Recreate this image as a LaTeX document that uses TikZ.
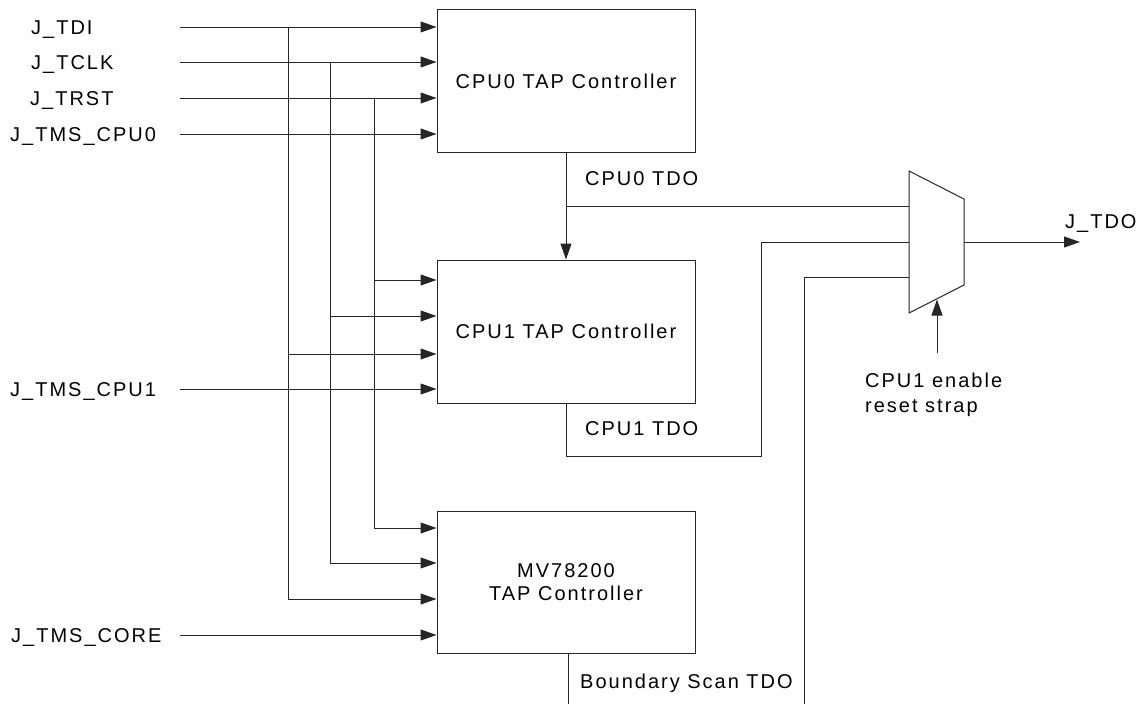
\documentclass[tikz,border=0pt]{standalone}
\usepackage{fontspec}
\setmainfont{Liberation Sans}[LetterSpace=10]
\usetikzlibrary{arrows.meta}
\begin{document}
\begin{tikzpicture}[x=1pt,y=-1pt,
  wire/.style={line width=1pt, draw=black!85},
  sig/.style={wire,-{Triangle[length=16pt,width=11pt]}},
  tapbox/.style={draw=black!85,line width=1pt,minimum width=258pt,minimum height=143pt,inner sep=0pt,align=center,font=\fontsize{20}{23}\selectfont},
  lbl/.style={font=\fontsize{20}{23}\selectfont,inner sep=0pt,anchor=west,text height=14.3pt,text depth=0pt},
]
\useasboundingbox (0,0) rectangle (1140,704);

% boxes
\node[tapbox] (cpu0) at (566,81) {CPU0 TAP Controller};
\node[tapbox] (cpu1) at (566,331.5) {CPU1 TAP Controller};
\node[tapbox,minimum height=142pt] (mv) at (566,582) {MV78200\\TAP Controller};

% input labels
\node[lbl] (l-tdi) at (31,27) {J\_TDI};
\node[lbl] (l-tclk) at (31,62) {J\_TCLK};
\node[lbl] (l-trst) at (30,98) {J\_TRST};
\node[lbl] (l-tms0) at (10,134) {J\_TMS\_CPU0};
\node[lbl] (l-tms1) at (10,389) {J\_TMS\_CPU1};
\node[lbl] (l-tmsc) at (11,635) {J\_TMS\_CORE};

% wire start points
\coordinate (s-tdi) at (180,27);
\coordinate (s-tclk) at (180,62);
\coordinate (s-trst) at (180,98);
\coordinate (s-tms0) at (180,134);
\coordinate (s-tms1) at (180,389);
\coordinate (s-tmsc) at (180,635);

% bus points
\coordinate (b1top) at (288,27);
\coordinate (b1c1) at (288,354);
\coordinate (b1mv) at (288,599);
\coordinate (b2top) at (330,62);
\coordinate (b2c1) at (330,316);
\coordinate (b2mv) at (330,563);
\coordinate (b3top) at (374,98);
\coordinate (b3c1) at (374,280);
\coordinate (b3mv) at (374,528);

% CPU0 inputs
\draw[sig] (s-tdi) -- (s-tdi -| cpu0.west);
\draw[sig] (s-tclk) -- (s-tclk -| cpu0.west);
\draw[sig] (s-trst) -- (s-trst -| cpu0.west);
\draw[sig] (s-tms0) -- (s-tms0 -| cpu0.west);

% buses
\draw[sig] (b1top) -- (b1mv) -- (b1mv -| mv.west);
\draw[sig] (b1c1) -- (b1c1 -| cpu1.west);
\draw[sig] (b2top) -- (b2mv) -- (b2mv -| mv.west);
\draw[sig] (b2c1) -- (b2c1 -| cpu1.west);
\draw[sig] (b3top) -- (b3mv) -- (b3mv -| mv.west);
\draw[sig] (b3c1) -- (b3c1 -| cpu1.west);

% TMS for CPU1 and core
\draw[sig] (s-tms1) -- (s-tms1 -| cpu1.west);
\draw[sig] (s-tmsc) -- (s-tmsc -| mv.west);

% mux
\coordinate (mux-tl) at (909,171);
\coordinate (mux-tr) at (964,199);
\coordinate (mux-br) at (964,285);
\coordinate (mux-bl) at (909,313);
\coordinate (m0) at (909,206);
\coordinate (m1) at (909,242);
\coordinate (m2) at (909,277);
\coordinate (mout) at (964,242);
\coordinate (jtdo) at (1080,242);
\draw[wire] (mux-tl) -- (mux-tr) -- (mux-br) -- (mux-bl) -- cycle;

% TDO chain
\draw[sig] (cpu0.south) -- (cpu1.north);
\draw[wire] (cpu0.south |- m0) -- (m0);
\coordinate (c1turn) at (761,456);
\draw[wire] (cpu1.south) |- (c1turn) |- (m1);
\coordinate (bottom) at (568,704);
\draw[wire] (mv.south -| bottom) -- (bottom);
\coordinate (bsr) at (804,704);
\draw[wire] (bsr) |- (m2);
\draw[sig] (mout) -- (jtdo);

% select
\coordinate (sel) at (937,353);
\coordinate (seltip) at (937,299.5);
\draw[sig] (sel) -- (seltip);

% labels
\node[lbl] (t-cpu0) at (585,178) {CPU0 TDO};
\node[lbl] (t-cpu1) at (585,428) {CPU1 TDO};
\node[lbl] (t-bs) at (580,681) {Boundary Scan TDO};
\node[lbl] (t-jtdo) at (1065,221) {J\_TDO};
\node[font=\fontsize{20}{25}\selectfont,inner sep=0pt,anchor=north west,align=left] (t-sel) at (865,372.5) {CPU1 enable\\reset strap};
\end{tikzpicture}
\end{document}
